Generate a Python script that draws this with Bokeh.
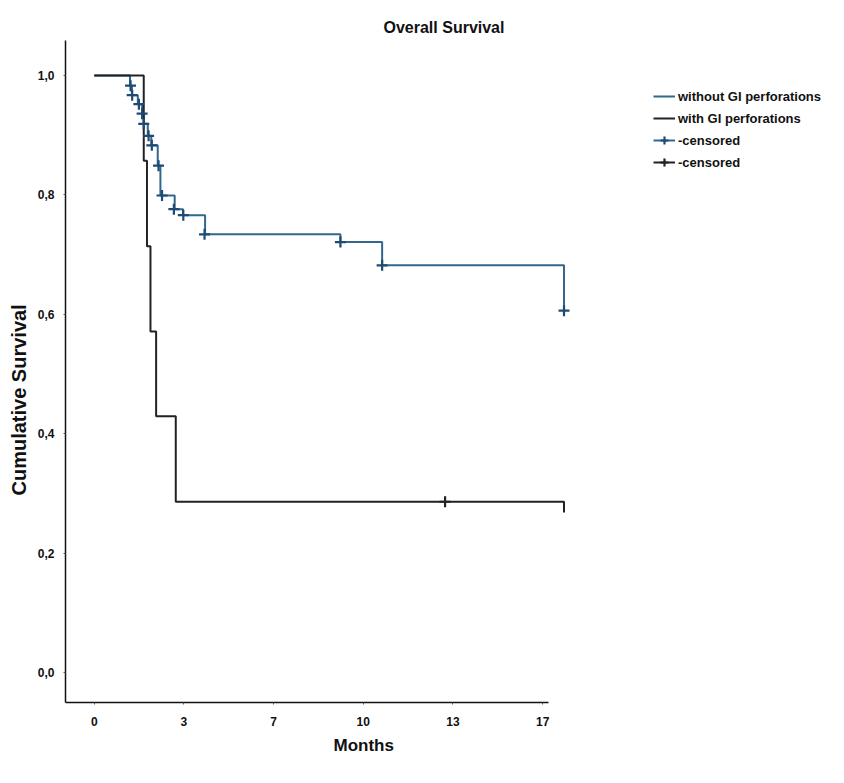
from bokeh.plotting import figure
from bokeh.models import Range1d, FixedTicker, Title, Legend, LegendItem, ColumnDataSource
from bokeh.embed import file_html
from bokeh.resources import INLINE

# ---- data ----
# without GI perforations: step times (months) and survival after each step
without_t = [0.0, 1.33, 1.40, 1.62, 1.78, 1.84, 1.99, 2.12, 2.36, 2.46, 2.99, 3.30, 4.12, 9.15, 10.70, 17.46]
without_s = [1.000, 0.983, 0.967, 0.952, 0.936, 0.919, 0.899, 0.883, 0.849, 0.799, 0.776, 0.766, 0.734, 0.721, 0.682, 0.606]
without_cens_t = [1.35, 1.41, 1.66, 1.78, 1.84, 2.02, 2.14, 2.39, 2.52, 2.96, 3.31, 4.10, 9.15, 10.70, 17.46]
without_cens_s = [0.983, 0.967, 0.952, 0.936, 0.919, 0.899, 0.883, 0.849, 0.799, 0.776, 0.766, 0.734, 0.721, 0.682, 0.606]

# with GI perforations
with_t = [0.0, 1.84, 1.96, 2.09, 2.30, 3.03, 17.46]
with_s = [1.000, 0.857, 0.714, 0.571, 0.429, 0.286, 0.268]
with_cens_t = [13.04]
with_cens_s = [0.286]

x_ticks = [0.0, 3.333, 6.667, 10.0, 13.333, 16.667]
x_tick_labels = ["0", "3", "7", "10", "13", "17"]
y_ticks = [0.0, 0.2, 0.4, 0.6, 0.8, 1.0]
y_tick_labels = ["0,0", "0,2", "0,4", "0,6", "0,8", "1,0"]

series_labels = ["without GI perforations", "with GI perforations", "-censored", "-censored"]

# ---- styling ----
FONT = "Liberation Sans"
BLUE = "#30688f"
BLUE_C = "#1f4a75"
BLACK = "#222222"

p = figure(width=828, height=775, output_backend="svg", toolbar_location=None,
           x_range=Range1d(-1.068, 27.29), y_range=Range1d(-0.0503, 1.0586),
           min_border_left=58, min_border_right=0, min_border_top=40, min_border_bottom=73)
p.grid.visible = False
p.outline_line_color = None
p.background_fill_color = "white"
p.border_fill_color = "white"

p.title.text = "Overall Survival"
p.title.align = "left"
p.title.offset = 318
p.title.standoff = 10
p.title.text_font = FONT
p.title.text_font_size = "16px"
p.title.text_font_style = "bold"
p.title.text_color = "#111111"

# axes
p.xaxis.ticker = FixedTicker(ticks=x_ticks)
p.xaxis.major_label_overrides = dict(zip(x_ticks, x_tick_labels))
p.yaxis.ticker = FixedTicker(ticks=y_ticks)
p.yaxis.major_label_overrides = dict(zip(y_ticks, y_tick_labels))
p.xaxis.bounds = (-1.068, 16.87)
for ax in (p.xaxis, p.yaxis):
    ax.axis_line_color = "#111111"
    ax.axis_line_width = 1.5
    ax.major_tick_in = 0
    ax.major_tick_out = 2
    ax.minor_tick_line_color = None
    ax.major_tick_line_color = "#555555"
    ax.major_label_text_font = FONT
    ax.major_label_text_font_size = "12px"
    ax.major_label_text_font_style = "bold"
    ax.major_label_text_color = "#111111"
p.xaxis.major_label_standoff = 12
p.yaxis.major_label_standoff = 9

p.add_layout(Title(text="Months", align="left", offset=268, text_font=FONT,
                   text_font_size="17px", text_font_style="bold", text_color="#111111"), "below")
p.add_layout(Title(text="Cumulative Survival", align="left", offset=207, text_font=FONT,
                   text_font_size="20px", text_font_style="bold", text_color="#111111"), "left")

# curves
src_wo = ColumnDataSource(dict(t=without_t, s=without_s))
src_w = ColumnDataSource(dict(t=with_t, s=with_s))
r_wo = p.step("t", "s", source=src_wo, mode="after", line_color=BLUE, line_width=2)
r_w = p.step("t", "s", source=src_w, mode="after", line_color=BLACK, line_width=2)
c_wo = p.scatter(without_cens_t, without_cens_s, marker="cross", size=11, line_width=2.2, line_color=BLUE_C)
c_w = p.scatter(with_cens_t, with_cens_s, marker="cross", size=11, line_width=2.2, line_color=BLACK)

legend = Legend(items=[
    LegendItem(label=series_labels[0], renderers=[r_wo]),
    LegendItem(label=series_labels[1], renderers=[r_w]),
    LegendItem(label=series_labels[2], renderers=[r_wo, c_wo]),
    LegendItem(label=series_labels[3], renderers=[r_w, c_w]),
], location=(588, 530))
legend.border_line_color = None
legend.background_fill_alpha = 0
legend.padding = 2
legend.margin = 0
legend.spacing = 2
legend.glyph_width = 22
legend.glyph_height = 20
legend.label_height = 20
legend.label_standoff = 3
legend.label_text_font = FONT
legend.label_text_font_size = "13px"
legend.label_text_font_style = "bold"
legend.label_text_color = "#111111"
p.add_layout(legend, "center")

open("out.html", "w").write(file_html(p, INLINE))
